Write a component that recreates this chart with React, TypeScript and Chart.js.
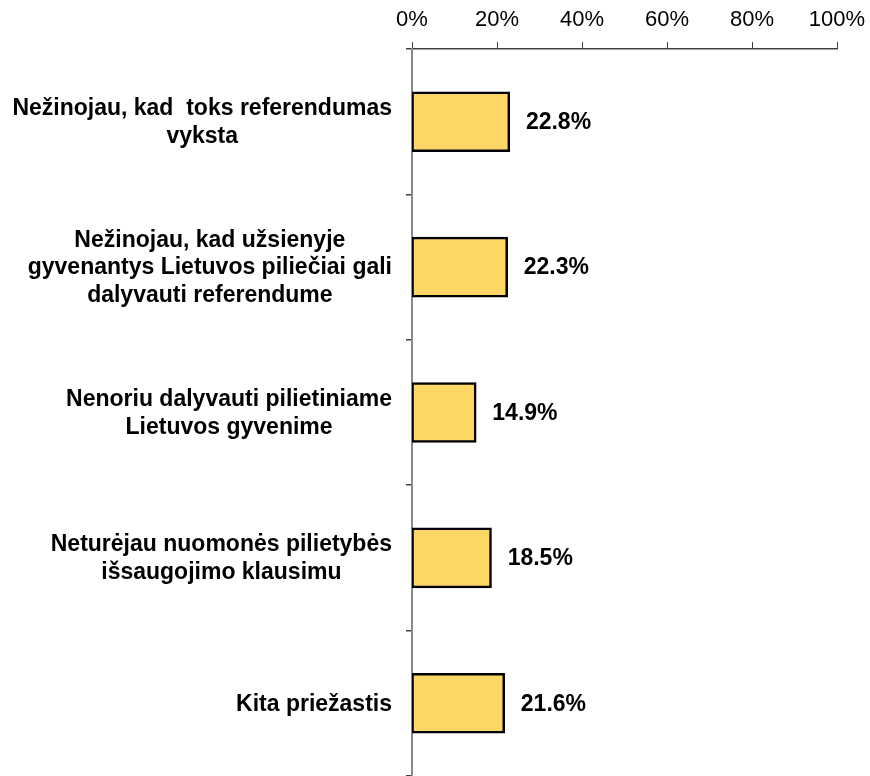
import React, { useEffect, useRef } from 'react';
import { Chart, registerables } from 'chart.js';

Chart.register(...registerables);

const categories: string[][] = [
  ['Nežinojau, kad  toks referendumas', 'vyksta'],
  ['Nežinojau, kad užsienyje', 'gyvenantys Lietuvos piliečiai gali', 'dalyvauti referendume'],
  ['Nenoriu dalyvauti pilietiniame', 'Lietuvos gyvenime'],
  ['Neturėjau nuomonės pilietybės', 'išsaugojimo klausimu'],
  ['Kita priežastis'],
];
const values: number[] = [22.8, 22.3, 14.9, 18.5, 21.6];
const xMin = 0;
const xMax = 100;
const xStep = 20;

const FONT = '"Liberation Sans", Arial, sans-serif';
const X_AXIS_COLOR = '#404040';
const Y_AXIS_COLOR = '#8a8a8a';

const categoryLabelPlugin = {
  id: 'categoryLabels',
  afterDraw(chart: any) {
    const ctx = chart.ctx;
    const yScale = chart.scales.y;
    const area = chart.chartArea;
    const labels = chart.data.labels as string[][];
    ctx.save();
    ctx.font = `bold 23px ${FONT}`;
    ctx.fillStyle = '#000';
    ctx.textAlign = 'center';
    ctx.textBaseline = 'middle';
    const lh = 27.5;
    labels.forEach((lines, i) => {
      const cy = yScale.getPixelForValue(i) + 1;
      const w = Math.max(...lines.map((l) => ctx.measureText(l).width));
      const right = area.left - 20;
      const cx = right - w / 2;
      lines.forEach((line, j) => {
        ctx.fillText(line, cx, cy + (j - (lines.length - 1) / 2) * lh);
      });
    });
    ctx.restore();
  },
};

const valueLabelPlugin = {
  id: 'valueLabels',
  afterDatasetsDraw(chart: any) {
    const ctx = chart.ctx;
    const meta = chart.getDatasetMeta(0);
    const data = chart.data.datasets[0].data as number[];
    ctx.save();
    ctx.font = `bold 23px ${FONT}`;
    ctx.fillStyle = '#000';
    ctx.textAlign = 'left';
    ctx.textBaseline = 'middle';
    meta.data.forEach((bar: any, i: number) => {
      ctx.fillText(data[i].toFixed(1) + '%', bar.x + 17, bar.y + 1);
    });
    ctx.restore();
  },
};

export default function App() {
  const ref = useRef<HTMLCanvasElement | null>(null);
  useEffect(() => {
    if (!ref.current) return;
    const chart = new Chart(ref.current, {
      type: 'bar',
      data: {
        labels: categories as any,
        datasets: [
          {
            data: values,
            backgroundColor: '#FDD766',
            borderColor: '#000000',
            borderWidth: 2.5,
            borderSkipped: false,
            inflateAmount: 1.2,
            barPercentage: 0.4,
            categoryPercentage: 1,
          },
        ],
      },
      options: {
        indexAxis: 'y',
        responsive: false,
        animation: false,
        layout: { padding: { top: 0, left: 0, right: 33, bottom: 0 } },
        plugins: { legend: { display: false }, tooltip: { enabled: false } },
        scales: {
          x: {
            type: 'linear',
            position: 'top',
            min: xMin,
            max: xMax,
            ticks: {
              stepSize: xStep,
              callback: (v: any) => v + '%',
              font: { family: FONT, size: 22 },
              color: '#000',
              padding: 9,
            },
            grid: { drawOnChartArea: false, drawTicks: true, tickLength: 7, color: X_AXIS_COLOR, lineWidth: 1 },
            border: { display: true, color: X_AXIS_COLOR, width: 1.5 },
            afterFit: (s: any) => {
              s.height = 49;
              s.paddingLeft = 0;
              s.paddingRight = 0;
            },
          },
          y: {
            type: 'category',
            position: 'left',
            offset: true,
            ticks: { display: false },
            grid: { offset: true, drawOnChartArea: false, drawTicks: true, tickLength: 6, color: X_AXIS_COLOR, lineWidth: 1.5 },
            border: { display: true, color: Y_AXIS_COLOR, width: 2 },
            afterFit: (s: any) => {
              s.width = 412;
            },
          },
        },
      } as any,
      plugins: [categoryLabelPlugin, valueLabelPlugin],
    });
    return () => chart.destroy();
  }, []);
  return (
    <div style={{ position: 'fixed', left: 0, top: 0, width: 870, height: 776, background: '#fff' }}>
      <canvas ref={ref} width={870} height={776} />
    </div>
  );
}
